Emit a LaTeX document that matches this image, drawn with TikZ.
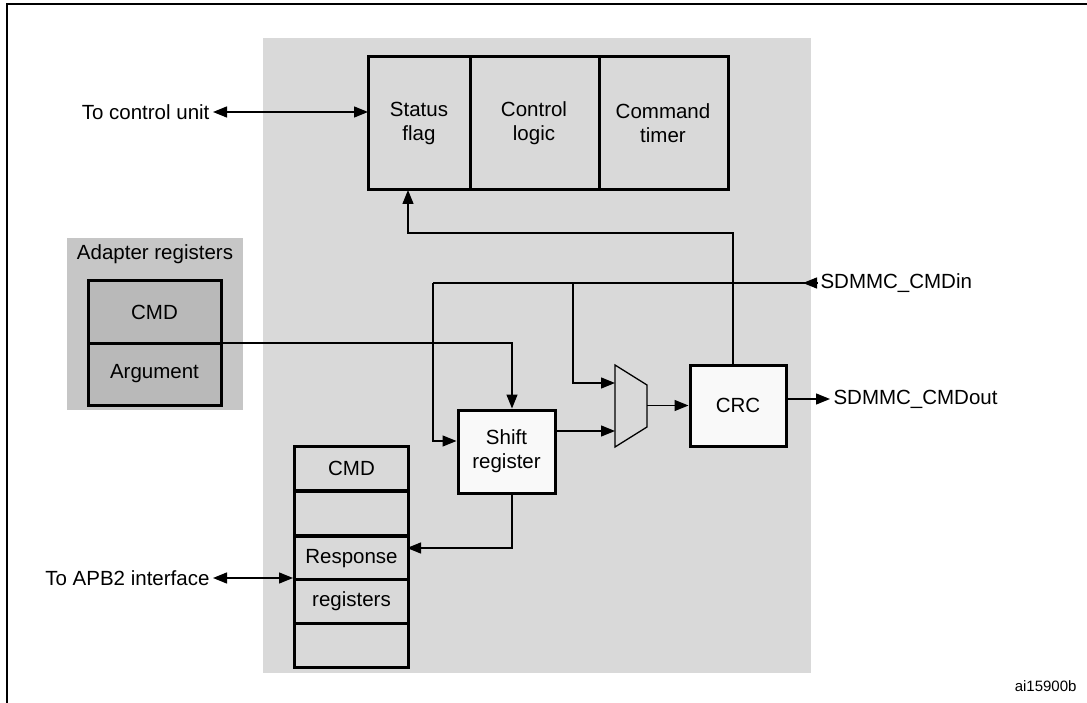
\documentclass[tikz,border=0pt]{standalone}
\usepackage{fontspec}
\setmainfont{Liberation Sans}
\usetikzlibrary{arrows.meta}
\begin{document}
\begin{tikzpicture}[x=1pt,y=-1pt,
  lbl/.style={font=\fontsize{20.5}{24}\selectfont, align=center},
  blk/.style={draw, line width=3pt, fill=#1},
  con/.style={line width=1.3pt},
  arr/.style={con,-{Triangle[length=14pt,width=11pt]}},
  darr/.style={con,{Triangle[length=14pt,width=11pt]}-{Triangle[length=14pt,width=11pt]}}]
\useasboundingbox (0,0) rectangle (1087,703);
\draw[line width=2pt] (7,703) -- (7,4) -- (1087,4);
\fill[gray!30] (263,38) rectangle (811,673);
% top blocks
\draw[blk=gray!30] (368,57) rectangle (728,190);
\draw[line width=3pt] (470,57) -- (470,190) (599,57) -- (599,190);
\node[lbl] (sf) at (419,123) {Status\\flag};
\node[lbl] (cl) at (534,123) {Control\\logic};
\node[lbl] (ct) at (663,123) {Command\\timer};
\coordinate (sfl) at (368,112);
\coordinate (sfb) at (408,190);
\node[lbl, anchor=east] (tcu) at (213,112) {To control unit};
\draw[darr] (tcu.east) -- (sfl);
% adapter registers
\fill[gray!45] (67,238) rectangle (243,410);
\node[lbl] (ar) at (155,254) {Adapter registers};
\node[blk=gray!55, minimum width=133pt, minimum height=62pt, lbl] (cmd) at (154.5,312) {CMD};
\node[blk=gray!55, minimum width=133pt, minimum height=62pt, lbl] (arg) at (154.5,374) {Argument};
% shift register
\node[blk=gray!5, minimum width=97pt, minimum height=83pt, lbl] (sr) at (506.5,451.5) {Shift\\register};
% CRC
\node[blk=gray!5, minimum width=96pt, minimum height=81pt, lbl] (crc) at (738,405.5) {CRC};
% mux
\draw[con, fill=gray!30] (615,365) -- (647,385) -- (647,427) -- (615,447) -- cycle;
\coordinate (m1) at (615,383);
\coordinate (m2) at (615,431);
\coordinate (mo) at (647,405.5);
% response registers
\foreach \y/\t [count=\i] in {445/CMD,490/,535/Response,578/registers,622/}{
  \node[draw, line width=3pt, fill=gray!30, minimum width=114pt, minimum height=44pt, lbl, anchor=north west] (r\i) at (293,\y) {\t};
}
\node[lbl, anchor=east] (apb) at (213,578) {To APB2 interface};
\draw[darr] (apb.east) -- (293,578);
% signals
\node[lbl, anchor=west] (cin) at (817,283) {SDMMC\_CMDin};
\node[lbl, anchor=west] (cout) at (830,399) {SDMMC\_CMDout};
\coordinate (cinj) at (433,283);
\draw[con] (cin.west) -- (cinj);
\draw[arr] (cin.west) -- ++(-14,0);
\draw[arr] (cinj) -- (433,441) -- (sr.west |- 0,441);
\draw[arr] (573,283) -- (573,383) -- (m1);
\draw[arr] (sr.east |- 0,431) -- (m2);
\draw[arr] (mo) -- (crc.west |- mo);
\draw[arr] (crc.east |- 0,399) -- (cout.west);
\draw[arr] (crc.north -| 733,0) -- (733,233) -- (408,233) -- (sfb);
\draw[arr] (arg.east |- 0,343) -- (512,343) -- (sr.north -| 512,0);
\draw[arr] (sr.south -| 512,0) -- (512,548) -- (407,548);
\node[font=\fontsize{15}{17}\selectfont, anchor=east] (id) at (1080,686) {ai15900b};
\end{tikzpicture}
\end{document}
